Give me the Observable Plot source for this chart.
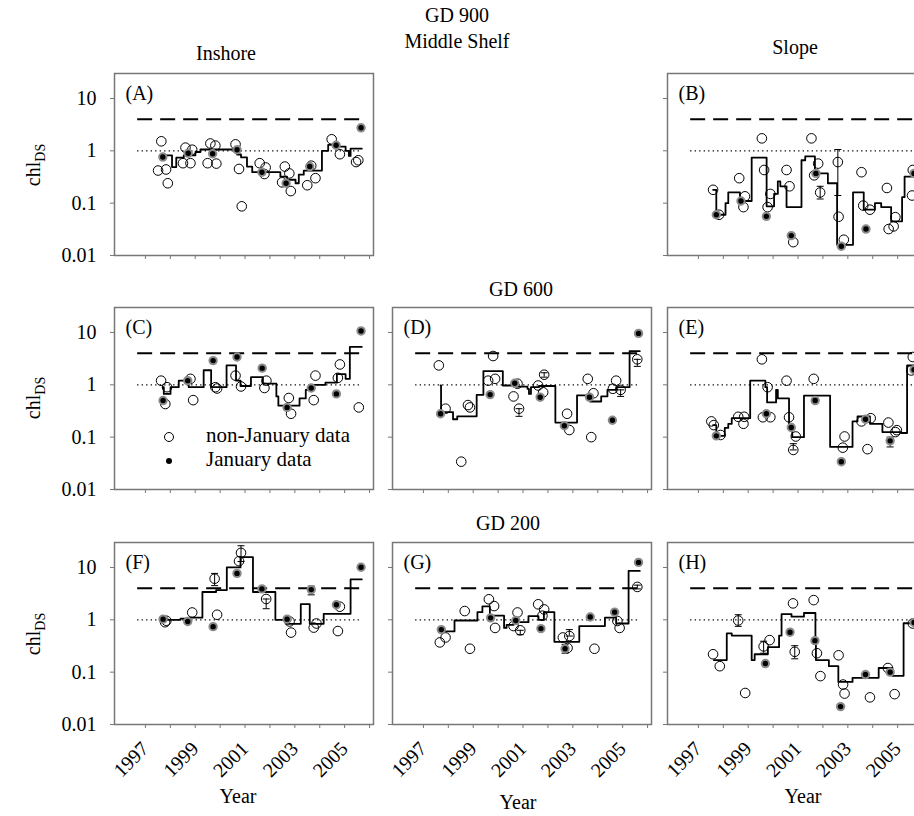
<!DOCTYPE html>
<html><head><meta charset="utf-8">
<script src="https://cdn.jsdelivr.net/npm/d3@7"></script>
<script src="https://cdn.jsdelivr.net/npm/@observablehq/plot@0.6"></script>
<style>
body{margin:0;background:#fff;}
#wrap{position:relative;width:914px;height:816px;overflow:hidden;font-family:"Liberation Serif","Times New Roman",serif;}
.panel{position:absolute;}
#overlay{position:absolute;left:0;top:0;pointer-events:none;}
</style></head><body><div id="wrap"></div>
<script>
// ---- data ----
const years = [1997,1998,1999,2000,2001,2002,2003,2004,2005,2006];
const yTicks = [0.01, 0.1, 1, 10];
const thresholdValues = [4];      // dashed
const referenceValues = [1];      // dotted
const guideSpan = [1997.05, 2006.05];

const aOpen = [[1998.0,1.52],[1997.87,0.42],[1998.19,0.44],[1998.26,0.24],[1998.97,1.15],[1999.24,1.05],[1998.87,0.58],[1999.17,0.58],[1999.97,1.38],[2000.17,1.26],[1999.86,0.58],[2000.21,0.57],[2000.98,1.33],[2001.12,0.45],[2001.23,0.087],[2001.95,0.58],[2002.19,0.48],[2002.14,0.36],[2002.96,0.5],[2002.85,0.25],[2003.2,0.17],[2003.14,0.37],[2004.02,0.52],[2004.19,0.3],[2003.86,0.22],[2004.84,1.66],[2005.17,0.86],[2005.82,0.61],[2005.91,0.66]];
const aJan = [[1998.06,0.76],[1999.08,0.9],[2000.06,0.88],[2001.04,1.05],[2002.04,0.39],[2003.01,0.24],[2003.96,0.5],[2005.02,1.28],[2006.02,2.75]];
const aStep = [[1998.0,0.82],[1998.43,0.49],[1998.6,0.74],[1998.9,0.82],[1999.37,0.95],[1999.57,1.06],[2001.04,0.85],[2001.2,0.75],[2001.44,0.5],[2001.65,0.39],[2002.78,0.32],[2003.05,0.28],[2003.39,0.24],[2003.52,0.35],[2003.72,0.42],[2004.45,1.0],[2004.7,1.3],[2005.06,1.2],[2005.4,1.0],[2005.53,0.8],[2005.6,1.1],[2006.05,1.1]];
const aErr = [];

const bOpen = [[1997.95,0.18],[1998.19,0.06],[1999.0,0.30],[1999.23,0.135],[1999.17,0.084],[1999.91,1.73],[2000.0,0.43],[2000.25,0.15],[2000.14,0.084],[2000.9,0.43],[2001.02,0.21],[2001.17,0.018],[2001.9,1.73],[2002.17,0.57],[2002.01,0.34],[2002.25,0.16],[2002.96,0.61],[2002.99,0.055],[2003.2,0.02],[2003.91,0.39],[2003.98,0.09],[2004.25,0.075],[2004.93,0.195],[2005.27,0.054],[2005.0,0.032],[2005.2,0.036],[2005.94,0.14],[2005.97,0.43]];
const bJan = [[1998.08,0.06],[1999.07,0.11],[2000.09,0.056],[2001.09,0.024],[2002.08,0.37],[2003.1,0.015],[2004.09,0.032],[2006.02,0.37]];
const bStep = [[1997.95,0.18],[1998.08,0.06],[1998.45,0.1],[1998.56,0.16],[1999.03,0.11],[1999.5,0.74],[2000.1,0.087],[2000.4,0.15],[2000.55,0.26],[2000.65,0.21],[2000.9,0.084],[2001.5,0.66],[2001.65,0.78],[2002.04,0.37],[2002.56,0.24],[2002.93,0.016],[2003.57,0.16],[2004.0,0.075],[2004.45,0.1],[2004.7,0.084],[2005.1,0.045],[2005.54,0.13],[2005.64,0.32],[2006.05,0.32]];
const bErr = [[2002.25,0.12,0.21],[2002.96,0.14,1.06]];

const cOpen = [[1997.99,1.2],[1998.23,0.9],[1998.16,0.43],[1999.17,1.3],[1999.28,0.51],[2000.17,0.9],[2000.24,0.85],[2000.98,1.5],[2001.2,0.93],[2002.22,1.2],[2002.14,0.87],[2003.12,0.56],[2003.21,0.28],[2004.19,1.5],[2004.12,0.51],[2005.17,2.45],[2005.09,1.36],[2005.93,0.37]];
const cJan = [[1998.07,0.5],[1999.06,1.2],[2000.08,2.9],[2001.04,3.4],[2002.05,2.08],[2003.05,0.37],[2004.02,0.87],[2005.03,0.67],[2006.02,10.7]];
const cStep = [[1998.06,0.9],[1998.1,0.67],[1998.37,0.9],[1998.7,1.2],[1999.1,0.9],[1999.7,1.9],[2000.0,0.9],[2000.62,2.35],[2001.0,1.2],[2001.18,0.95],[2001.6,1.4],[2002.08,1.05],[2002.62,0.6],[2002.7,0.4],[2003.55,0.55],[2003.8,0.8],[2003.99,1.0],[2004.59,1.1],[2005.05,1.6],[2005.4,1.3],[2005.57,5.3],[2006.05,5.3]];
const cErr = [];

const dOpen = [[1997.98,2.35],[1998.25,0.35],[1998.88,0.034],[1999.15,0.41],[1999.23,0.37],[1999.96,1.2],[2000.24,1.3],[2000.16,3.55],[2001.14,1.05],[2000.98,0.6],[2001.2,0.35],[2001.97,0.97],[2002.21,1.56],[2002.17,0.72],[2003.13,0.28],[2003.22,0.137],[2003.96,1.3],[2004.19,0.69],[2004.1,0.1],[2005.1,1.2],[2004.97,0.84],[2005.28,0.8],[2005.95,3.07]];
const dJan = [[1998.05,0.28],[2000.04,0.65],[2001.03,1.07],[2002.05,0.58],[2003.02,0.165],[2004.03,0.58],[2004.95,0.21],[2006.0,9.6]];
const dStep = [[1998.05,0.97],[1998.07,0.3],[1998.55,0.22],[1998.72,0.25],[1999.5,0.64],[1999.77,1.83],[2000.55,0.97],[2001.0,0.92],[2001.54,0.84],[2001.6,0.67],[2001.68,0.9],[2002.0,0.95],[2002.66,0.19],[2003.53,0.63],[2004.05,0.48],[2004.5,0.6],[2004.75,0.8],[2005.1,0.9],[2005.64,4.4],[2006.05,4.4]];
const dErr = [[2001.2,0.25,0.35],[2002.21,1.4,1.7],[2005.28,0.6,0.8],[2005.95,2.25,3.07]];

const eOpen = [[1997.88,0.2],[1997.98,0.17],[1998.25,0.11],[1998.96,0.245],[1999.2,0.245],[1999.17,0.18],[1999.91,3.07],[2000.14,0.9],[1999.95,0.24],[2000.25,0.24],[2000.9,1.2],[2001.0,0.24],[2001.27,0.103],[2001.17,0.057],[2001.99,1.3],[2003.23,0.103],[2003.16,0.063],[2003.91,0.2],[2004.28,0.23],[2004.15,0.059],[2004.99,0.19],[2005.33,0.136],[2005.27,0.125],[2005.97,3.4],[2005.91,1.88]];
const eJan = [[1998.08,0.106],[2000.09,0.28],[2001.09,0.153],[2002.05,0.5],[2003.1,0.034],[2004.07,0.22],[2005.06,0.085],[2006.02,1.95]];
const eStep = [[1997.95,0.17],[1998.08,0.106],[1998.42,0.15],[1998.56,0.18],[1998.7,0.23],[1999.44,1.2],[2000.05,0.9],[2000.12,0.46],[2000.48,0.8],[2000.55,0.55],[2001.0,0.15],[2001.13,0.1],[2001.6,0.62],[2002.65,0.065],[2003.55,0.2],[2003.75,0.25],[2004.25,0.18],[2004.75,0.125],[2005.5,0.12],[2005.74,2.35],[2006.05,2.35]];
const eErr = [[2001.17,0.057,0.075],[2005.06,0.065,0.1]];

const fOpen = [[1998.2,0.96],[1998.15,0.9],[1999.24,1.38],[2000.24,1.25],[2000.14,6.1],[2001.2,19],[2001.12,13.2],[2002.21,2.5],[2003.15,0.93],[2003.21,0.57],[2004.12,0.71],[2004.23,0.85],[2005.17,1.78],[2005.09,0.61]];
const fJan = [[1998.07,1.03],[1999.06,0.93],[2000.08,0.74],[2001.04,7.7],[2002.04,3.9],[2003.05,1.03],[2004.02,3.78],[2005.03,1.94],[2006.02,10.1]];
const fStep = [[1998.07,1.0],[1998.77,1.05],[1999.1,1.1],[1999.65,3.4],[2000.2,3.7],[2000.63,10],[2001.18,15.8],[2001.68,3.4],[2002.58,1.0],[2003.02,0.84],[2003.6,2.0],[2003.96,0.84],[2004.52,1.3],[2005.6,5.9],[2006.05,5.9]];
const fErr = [[2000.14,4.5,7.7],[2001.2,13,26],[2002.21,1.63,2.5],[2004.02,3.0,4.4]];

const gOpen = [[1998.25,0.46],[1998.02,0.37],[1999.02,1.47],[1999.23,0.28],[1999.99,2.47],[2000.2,1.83],[2000.24,0.7],[2001.14,1.38],[2000.98,0.76],[2001.25,0.63],[2001.97,1.98],[2002.21,1.58],[2002.14,1.2],[2002.96,0.46],[2003.22,0.49],[2003.15,0.29],[2004.23,0.28],[2005.15,0.95],[2005.24,0.7],[2005.95,4.25]];
const gJan = [[1998.08,0.65],[2000.06,1.09],[2001.07,0.97],[2002.08,0.68],[2003.05,0.28],[2004.06,1.13],[2005.04,1.4],[2006.0,12.5]];
const gStep = [[1998.1,0.6],[1998.61,0.97],[1999.53,1.4],[1999.73,1.8],[2000.03,1.2],[2000.6,0.7],[2000.7,0.8],[2000.98,0.9],[2001.58,1.18],[2001.98,1.0],[2002.2,1.4],[2002.62,0.38],[2003.62,0.76],[2004.65,1.1],[2005.1,0.85],[2005.6,8.6],[2006.05,8.6]];
const gErr = [[2001.25,0.52,0.63],[2003.22,0.49,0.65],[2003.05,0.23,0.34],[2005.95,3.9,4.6]];

const hOpen = [[1997.95,0.22],[1998.22,0.13],[1998.96,0.97],[1999.24,0.04],[1999.98,0.31],[2000.22,0.41],[2001.16,2.06],[2001.23,0.245],[2001.99,2.38],[2002.12,0.23],[2002.26,0.084],[2002.99,0.21],[2003.17,0.058],[2003.23,0.039],[2004.25,0.033],[2004.97,0.12],[2005.24,0.038],[2005.97,0.85]];
const hJan = [[2000.05,0.146],[2001.04,0.58],[2002.04,0.4],[2003.07,0.022],[2004.07,0.09],[2005.06,0.1],[2006.02,0.89]];
const hStep = [[1997.98,0.17],[1998.5,0.55],[1998.7,0.5],[1999.5,0.17],[1999.62,0.22],[2000.15,0.3],[2000.6,0.5],[2000.7,1.28],[2001.1,1.15],[2001.6,1.35],[2002.06,0.38],[2002.08,0.17],[2002.6,0.13],[2002.98,0.065],[2003.55,0.078],[2004.6,0.12],[2005.15,0.085],[2005.6,0.86],[2006.05,0.86]];
const hErr = [[1998.96,0.75,1.25],[1999.98,0.23,0.39],[2001.23,0.18,0.32]];

// ---- layout ----
const colLeft = [114, 392, 667];
const rowTop = [73, 307, 542];
const FW = 259, FH = 182;

const capSymbol = { draw(ctx, size) { ctx.moveTo(-3.5, 0); ctx.lineTo(3.5, 0); } };
const X = d => d[0], Y = d => d[1];

function panel(label, open, jan, step, err, col, row) {
  const showY = col === 0, showX = row === 2;
  const ml = 70, mr = 20, mt = 10, mb = 70;
  const svg = Plot.plot({
    width: FW + ml + mr, height: FH + mt + mb,
    marginLeft: ml, marginRight: mr, marginTop: mt, marginBottom: mb,
    x: {domain: [1996.12, 2006.52]},
    y: {type: "log", domain: [0.01, 30]},
    style: {fontFamily: '"Liberation Serif", serif', fontSize: "20px", background: "transparent", overflow: "visible", color: "black"},
    marks: [
      Plot.axisY({ticks: yTicks, tickSize: 4, tickPadding: 14, stroke: "#777", tickFormat: showY ? (d => String(d)) : (() => ""), label: null, fontSize: 20}),
      Plot.axisX({ticks: years, tickSize: 4, tickPadding: 17, stroke: "#777", tickRotate: -45, dx: 9, tickFormat: showX ? (d => d % 2 === 1 ? String(d) : "") : (() => ""), label: null, fontSize: 20}),
      Plot.ruleY(thresholdValues, {x1: guideSpan[0], x2: guideSpan[1], stroke: "black", strokeWidth: 2, strokeDasharray: "15,8"}),
      Plot.ruleY(referenceValues, {x1: guideSpan[0], x2: guideSpan[1], stroke: "black", strokeWidth: 1.2, strokeDasharray: "1.3,3.2"}),
      Plot.ruleX(err, {x: X, y1: d => d[1], y2: d => d[2], stroke: "black", strokeWidth: 1}),
      Plot.dot(err, {x: X, y: d => d[1], symbol: capSymbol, stroke: "black", strokeWidth: 1}),
      Plot.dot(err, {x: X, y: d => d[2], symbol: capSymbol, stroke: "black", strokeWidth: 1}),
      Plot.line(step, {x: X, y: Y, curve: "step-after", stroke: "black", strokeWidth: 1.8}),
      Plot.dot(open, {x: X, y: Y, r: 4.8, stroke: "black", strokeWidth: 1, fill: "none"}),
      Plot.dot(jan, {x: X, y: Y, r: 3.7, fill: "black", stroke: "#8a8a8a", strokeWidth: 2}),
      Plot.text([label], {frameAnchor: "top-left", dx: 11, dy: 12, textAnchor: "start", lineAnchor: "top", fontSize: 20, fill: "black"}),
      Plot.frame({stroke: "#777", strokeWidth: 1.5})
    ]
  });
  svg.classList.add("panel");
  svg.style.left = (colLeft[col] - ml) + "px";
  svg.style.top = (rowTop[row] - mt) + "px";
  document.getElementById("wrap").appendChild(svg);
}

panel("(A)", aOpen, aJan, aStep, aErr, 0, 0);
panel("(B)", bOpen, bJan, bStep, bErr, 2, 0);
panel("(C)", cOpen, cJan, cStep, cErr, 0, 1);
panel("(D)", dOpen, dJan, dStep, dErr, 1, 1);
panel("(E)", eOpen, eJan, eStep, eErr, 2, 1);
panel("(F)", fOpen, fJan, fStep, fErr, 0, 2);
panel("(G)", gOpen, gJan, gStep, gErr, 1, 2);
panel("(H)", hOpen, hJan, hStep, hErr, 2, 2);

// ---- titles, axis titles, legend ----
const ns = "http://www.w3.org/2000/svg";
const ov = document.createElementNS(ns, "svg");
ov.setAttribute("id", "overlay");
ov.setAttribute("width", 914); ov.setAttribute("height", 816);
ov.style.fontFamily = '"Liberation Serif", serif';
function txt(s, x, y, opts = {}) {
  const t = document.createElementNS(ns, "text");
  t.setAttribute("x", x); t.setAttribute("y", y);
  t.setAttribute("text-anchor", opts.anchor || "middle");
  t.setAttribute("font-size", opts.size || 20);
  if (opts.transform) t.setAttribute("transform", opts.transform);
  t.textContent = s;
  ov.appendChild(t);
  return t;
}
txt("GD 900", 457, 22);
txt("Middle Shelf", 457, 48);
txt("Inshore", 226, 60);
txt("Slope", 795, 54);
txt("GD 600", 521, 296);
txt("GD 200", 508, 530);
txt("Year", 238, 803);
txt("Year", 518, 809);
txt("Year", 803, 803);
[165, 398, 634].forEach(cy => {
  const t = txt("chl", 0, 0, {transform: `translate(40,${cy}) rotate(-90)`});
  const s = document.createElementNS(ns, "tspan");
  s.setAttribute("font-size", 14); s.setAttribute("dy", 5);
  s.textContent = "DS";
  t.appendChild(s);
});
// legend inside panel C
const c1 = document.createElementNS(ns, "circle");
c1.setAttribute("cx", 169); c1.setAttribute("cy", 437); c1.setAttribute("r", 4.5);
c1.setAttribute("fill", "none"); c1.setAttribute("stroke", "black");
ov.appendChild(c1);
const c2 = document.createElementNS(ns, "circle");
c2.setAttribute("cx", 169); c2.setAttribute("cy", 461); c2.setAttribute("r", 3);
c2.setAttribute("fill", "black");
ov.appendChild(c2);
txt("non-January data", 206, 442, {anchor: "start", size: 21});
txt("January data", 206, 466, {anchor: "start", size: 21});
document.getElementById("wrap").appendChild(ov);
</script></body></html>
